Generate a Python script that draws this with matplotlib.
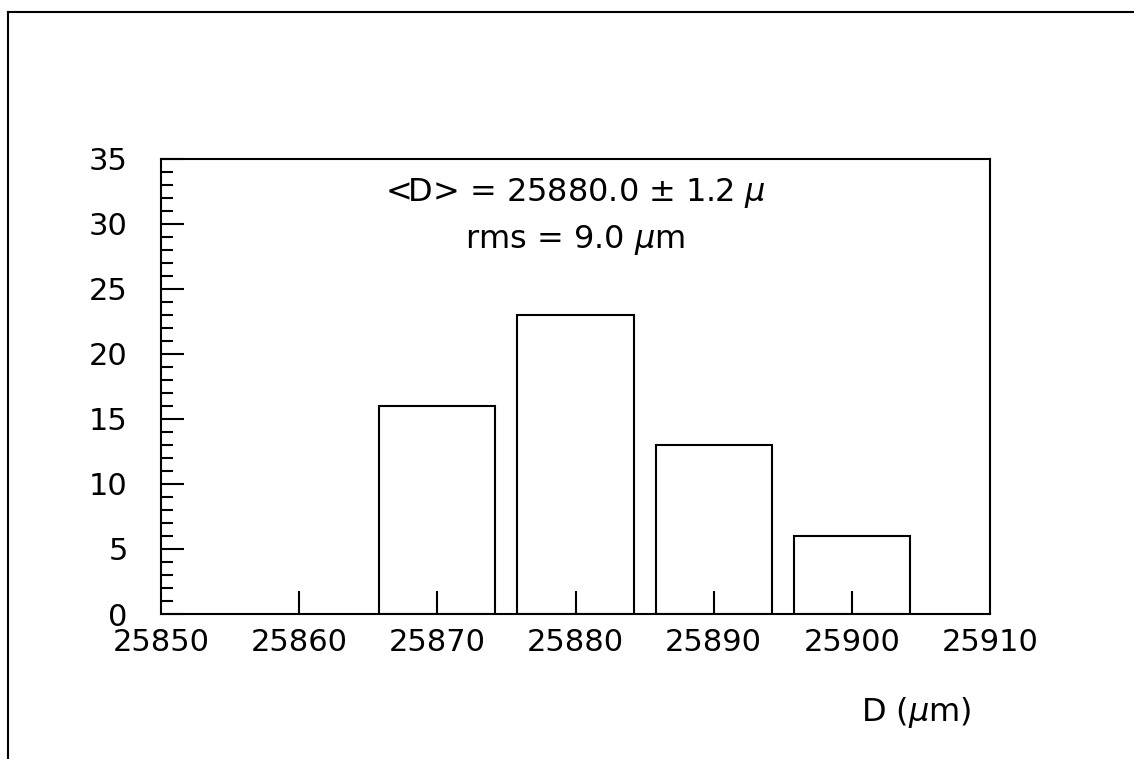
import matplotlib
matplotlib.use("Agg")
import matplotlib.pyplot as plt
from matplotlib.lines import Line2D

plt.rcParams['font.family'] = ['DejaVu Sans']
plt.rcParams['mathtext.fontset'] = 'dejavusans'

# histogram of measured D values (bin centres in micrometres, entries per bin)
bin_centres = [25870, 25880, 25890, 25900]
counts = [16, 23, 13, 6]
bar_width = 8.4

x_ticks = [25850, 25860, 25870, 25880, 25890, 25900, 25910]
y_ticks = [0, 5, 10, 15, 20, 25, 30, 35]

mean_text = r"<D> = 25880.0 $\pm$ 1.2 $\mu$"
rms_text = r"rms = 9.0 $\mu$m"

fig = plt.figure(figsize=(11.34, 7.59), dpi=100)
ax = fig.add_axes([0.142, 0.191, 0.731, 0.600])

ax.bar(bin_centres, counts, width=bar_width, facecolor='white',
       edgecolor='black', linewidth=1.5)

ax.set_xlim(25850, 25910)
ax.set_ylim(0, 35)

ax.set_xticks(x_ticks)
ax.set_xticklabels([str(t) for t in x_ticks])
ax.set_yticks(y_ticks)
ax.set_yticks(range(0, 36), minor=True)

ax.tick_params(axis='both', direction='in', labelsize=22, width=1.5,
               colors='black')
ax.tick_params(axis='y', which='major', length=16.5, pad=24)
ax.tick_params(axis='y', which='minor', length=8.5, width=1.5, direction='in')
ax.tick_params(axis='x', which='major', length=16.5, pad=10)
ax.tick_params(axis='x', which='minor', length=0)

# hide the edge ticks on the x axis
for tick in ax.xaxis.get_major_ticks():
    if tick.get_loc() in (25850, 25910):
        tick.tick1line.set_visible(False)

for sp in ax.spines.values():
    sp.set_linewidth(1.5)

ax.text(0.5, 0.925, mean_text, transform=ax.transAxes, ha='center',
        va='center', fontsize=23)
ax.text(0.5, 0.822, rms_text, transform=ax.transAxes, ha='center',
        va='center', fontsize=23)

fig.text(916 / 1134, 1 - 712 / 759, r"D ($\mu$m)", ha='center', va='center',
         fontsize=23)

# page frame (left and top edges)
fig.add_artist(Line2D([8 / 1134, 8 / 1134], [0, 1 - 12 / 759],
                      transform=fig.transFigure, color='black', linewidth=1.5))
fig.add_artist(Line2D([8 / 1134, 1], [1 - 12 / 759, 1 - 12 / 759],
                      transform=fig.transFigure, color='black', linewidth=1.5))

fig.savefig("out.png", dpi=100, facecolor='white')
